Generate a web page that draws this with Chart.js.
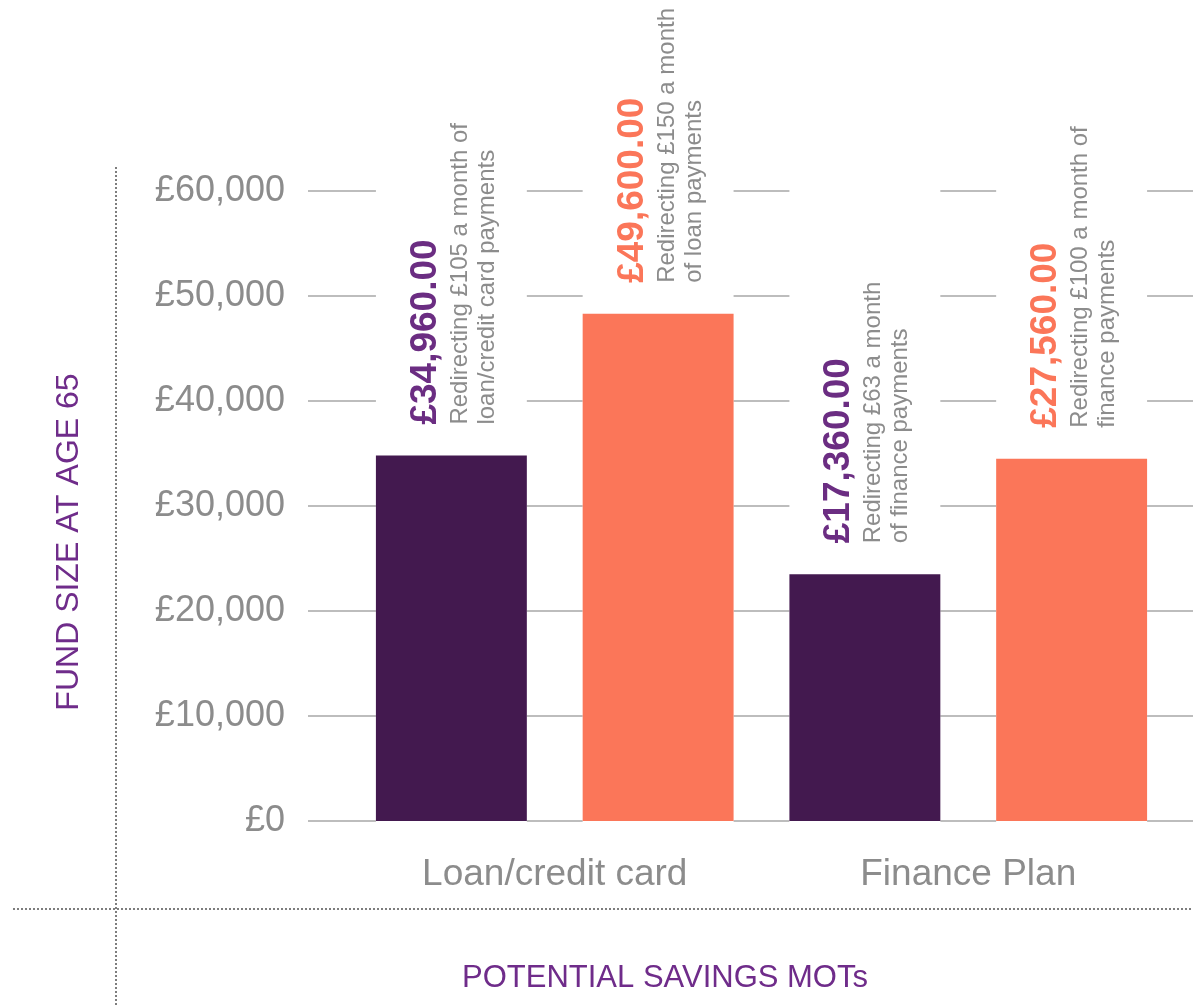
<!DOCTYPE html>
<html>
<head>
<meta charset="utf-8">
<script src="https://cdn.jsdelivr.net/npm/chart.js@4.4.1/dist/chart.umd.min.js"></script>
<style>
  html, body { margin: 0; padding: 0; background: #ffffff; }
  #wrap { width: 1193px; height: 1007px; }
</style>
</head>
<body>
<div id="wrap"><canvas id="fundChart" width="1193" height="1007"></canvas></div>
<script>
// bar heights
var categories = ["Loan/credit card", "Finance Plan"];
var purpleValues = [34800, 23500];
var orangeValues = [48300, 34500];

// the printed figures above each bar
var purpleLabels = ["£34,960.00", "£17,360.00"];
var orangeLabels = ["£49,600.00", "£27,560.00"];
var purpleNotes = [["Redirecting £105 a month of", "loan/credit card payments"],
                   ["Redirecting £63 a month", "of finance payments"]];
var orangeNotes = [["Redirecting £150 a month", "of loan payments"],
                   ["Redirecting £100 a month of", "finance payments"]];

var yMax = 60000;
var yStep = 10000;

var PURPLE = "#43194f";
var ORANGE = "#fb7659";
var PURPLE_TEXT = "#6b2d82";
var GREY_TEXT = "#8c8c8c";
var FONT = "'Liberation Sans', Arial, sans-serif";

function barColumns(chart){
    var cols = [];
    chart.data.datasets.forEach(function(ds, i){
        chart.getDatasetMeta(i).data.forEach(function(bar){
            var p = bar.getProps(['x', 'width'], true);
            cols.push([p.x - p.width / 2, p.x + p.width / 2]);
        });
    });
    cols.sort(function(a, b){ return a[0] - b[0]; });
    return cols;
}

// grid lines only run in the gaps between bars
var gapGrid = {
    id: 'gapGrid',
    beforeDatasetsDraw: function(chart){
        var ctx = chart.ctx;
        var yScale = chart.scales.y;
        var cols = barColumns(chart);
        ctx.save();
        ctx.strokeStyle = "#bdbdbd";
        ctx.lineWidth = 2;
        yScale.ticks.forEach(function(t){
            var py = Math.round(yScale.getPixelForValue(t.value));
            var start = 308;
            ctx.beginPath();
            cols.forEach(function(c){
                if(c[0] > start){
                    ctx.moveTo(start, py);
                    ctx.lineTo(c[0], py);
                }
                start = c[1];
            });
            ctx.moveTo(start, py);
            ctx.lineTo(chart.width, py);
            ctx.stroke();
        });
        ctx.restore();
    }
};

// rotated value + note above each bar
var barNotes = {
    id: 'barNotes',
    afterDatasetsDraw: function(chart){
        var ctx = chart.ctx;
        var sets = [
            {labels: purpleLabels, notes: purpleNotes, color: PURPLE_TEXT},
            {labels: orangeLabels, notes: orangeNotes, color: ORANGE}
        ];
        sets.forEach(function(s, i){
            chart.getDatasetMeta(i).data.forEach(function(bar, j){
                var p = bar.getProps(['x', 'y', 'width'], true);
                var left = p.x - p.width / 2;
                ctx.save();
                ctx.translate(left, p.y - 31);
                ctx.rotate(-Math.PI / 2);
                ctx.textAlign = 'left';
                ctx.textBaseline = 'alphabetic';
                ctx.fillStyle = s.color;
                ctx.font = "bold 37px " + FONT;
                ctx.fillText(s.labels[j], 0, 60);
                ctx.fillStyle = GREY_TEXT;
                ctx.font = "24px " + FONT;
                ctx.fillText(s.notes[j][0], 0, 91);
                ctx.fillText(s.notes[j][1], 0, 118);
                ctx.restore();
            });
        });
    }
};

// dotted frame and axis titles
var frame = {
    id: 'frame',
    afterDraw: function(chart){
        var ctx = chart.ctx;
        ctx.save();
        ctx.strokeStyle = "#7d7d7d";
        ctx.lineWidth = 2;
        ctx.setLineDash([2, 2]);
        ctx.beginPath();
        ctx.moveTo(116, 167);
        ctx.lineTo(116, chart.height);
        ctx.moveTo(13, 909);
        ctx.lineTo(chart.width, 909);
        ctx.stroke();
        ctx.setLineDash([]);

        ctx.fillStyle = "#6f2c8a";
        ctx.textAlign = 'center';
        ctx.textBaseline = 'alphabetic';
        ctx.font = "31px " + FONT;
        ctx.fillText("POTENTIAL SAVINGS MOTs", 665, 987);

        ctx.translate(78, 542);
        ctx.rotate(-Math.PI / 2);
        ctx.font = "32px " + FONT;
        ctx.fillText("FUND SIZE AT AGE 65", 0, 0);
        ctx.restore();
    }
};

var ctx = document.getElementById("fundChart");
var chart = new Chart(ctx, {
    type: 'bar',
    data: {
        labels: categories,
        datasets: [
            {label: "Lower", data: purpleValues, backgroundColor: PURPLE},
            {label: "Higher", data: orangeValues, backgroundColor: ORANGE}
        ]
    },
    options: {
        responsive: false,
        devicePixelRatio: 1,
        animation: false,
        layout: { padding: { top: 191, right: 18, bottom: 66, left: 0 } },
        datasets: { bar: { categoryPercentage: 1.0, barPercentage: 0.73 } },
        plugins: { legend: { display: false }, tooltip: { enabled: false } },
        scales: {
            x: {
                grid: { display: false, drawTicks: false },
                border: { display: false },
                ticks: { color: GREY_TEXT, padding: 32, font: { family: FONT, size: 37 } },
                afterFit: function(s){ s.height = 120; }
            },
            y: {
                min: 0,
                max: yMax,
                grid: { display: false, drawTicks: false },
                border: { display: false },
                ticks: {
                    stepSize: yStep,
                    padding: 63,
                    color: GREY_TEXT,
                    font: { family: FONT, size: 36 },
                    callback: function(v){ return "£" + v.toLocaleString('en-GB'); }
                },
                afterFit: function(s){ s.width = 348; }
            }
        }
    },
    plugins: [gapGrid, barNotes, frame]
});
</script>
</body>
</html>
